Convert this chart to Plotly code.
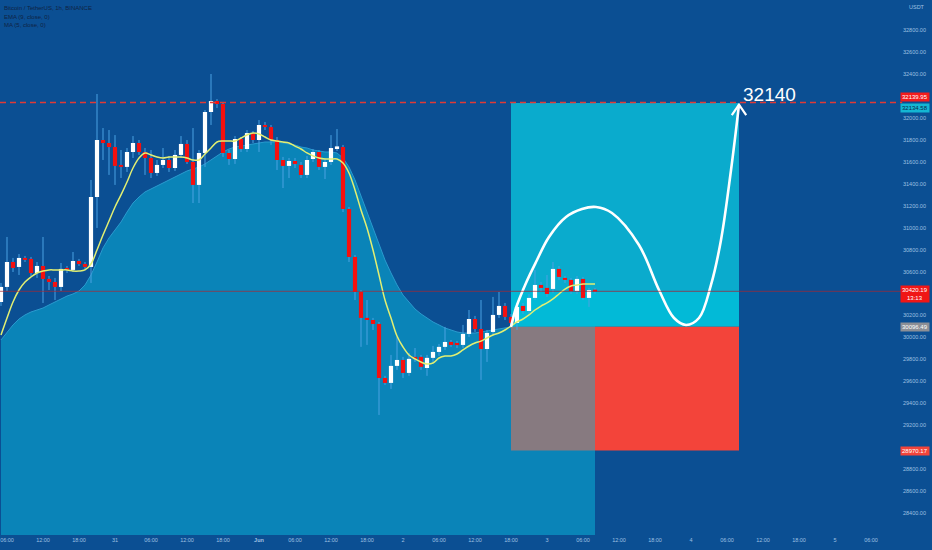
import plotly.graph_objects as go
import pandas as pd

# ---------------- data ----------------
start_time = "2022-05-30 05:00"
opens = [30323,30460,30687,30642,30724,30715,30587,30651,30533,30505,
         30460,30633,30615,30696,30669,30642,31279,31798,31771,31734,
         31571,31553,31689,31771,31689,31634,31498,31571,31616,31543,
         31662,31762,31598,31389,31680,32053,32153,32126,31680,31625,
         31807,31716,31861,31798,31935,31916,31798,31616,31562,31607,
         31571,31480,31625,31689,31553,31598,31716,31734,31170,30733,
         30414,30178,30159,30123,29631,29586,29741,29795,29677,29823,
         29823,29722,29814,29868,29914,29959,29950,29932,30032,30168,
         30077,29895,30050,30205,30287,30187,30132,30287,30241,30360,
         30478,30451,30442,30624,30542,30524,30423,30533,30360,30432]
highs = [30496,30915,30724,30760,30742,30733,30687,30915,30560,30542,
         30678,30651,30778,30715,30687,31434,32217,31907,31889,31843,
         31707,31725,31834,31798,31725,31707,31616,31725,31653,31707,
         31834,31798,31907,31707,32071,32399,32171,32144,31707,31834,
         31825,31889,31880,31980,31962,31935,31825,31644,31634,31634,
         31598,31653,31716,31707,31634,31843,31898,31753,31188,30751,
         30432,30341,30178,30141,29650,29841,30005,29823,29859,29904,
         29841,29841,29923,29941,30096,29977,29968,30114,30250,30196,
         30341,30068,30369,30414,30314,30214,30314,30314,30396,30615,
         30505,30569,30687,30651,30560,30542,30560,30551,30451,30451]
lows = [30287,30423,30596,30569,30687,30560,30542,30314,30432,30341,
        30423,30587,30596,30651,30615,30496,30997,31616,31480,31389,
        31452,31507,31634,31662,31480,31452,31471,31543,31507,31516,
        31634,31580,31224,31224,31553,31935,32089,31644,31571,31580,
        31689,31689,31771,31689,31889,31753,31525,31361,31452,31543,
        31452,31452,31598,31525,31443,31571,31698,31142,30687,30341,
        29914,29932,30068,29294,29568,29531,29704,29631,29650,29777,
        29704,29650,29777,29832,29886,29914,29904,29904,30005,30050,
        29613,29777,30023,30178,30159,30105,30068,30214,30214,30341,
        30414,30369,30405,30524,30496,30396,30396,30341,30278,30396]
closes = [30460,30687,30633,30724,30706,30587,30651,30533,30505,30460,
          30624,30615,30696,30669,30642,31279,31798,31771,31734,31562,
          31553,31689,31771,31689,31634,31498,31571,31616,31543,31662,
          31762,31598,31389,31680,32053,32153,32126,31680,31625,31807,
          31716,31861,31798,31935,31916,31798,31616,31562,31607,31580,
          31480,31616,31689,31553,31598,31725,31740,31170,30733,30414,
          30178,30159,30123,29631,29586,29741,29795,29677,29805,29805,
          29732,29814,29868,29914,29959,29932,29930,30032,30168,30077,
          29895,30041,30205,30287,30187,30132,30278,30241,30360,30478,
          30451,30396,30624,30551,30524,30423,30533,30360,30432,30420]
ema_fast = [30022,30177,30323,30432,30505,30551,30587,30605,30615,30615,
            30615,30615,30605,30605,30615,30669,30796,30933,31060,31188,
            31298,31416,31543,31634,31680,31662,31643,31634,31643,31643,
            31643,31634,31616,31616,31671,31725,31780,31789,31789,31789,
            31816,31844,31862,31853,31825,31798,31789,31780,31771,31743,
            31716,31680,31653,31634,31625,31625,31625,31589,31498,31343,
            31161,30997,30796,30569,30341,30177,30013,29913,29840,29804,
            29776,29758,29767,29813,29831,29831,29849,29886,29922,29949,
            29967,29995,30022,30040,30068,30104,30141,30168,30205,30250,
            30286,30314,30351,30396,30441,30468,30477,30487,30487,30487]
ma_slow = [29977,30050,30114,30168,30205,30232,30250,30268,30296,30323,
           30350,30377,30396,30423,30478,30569,30687,30815,30906,30978,
           31051,31142,31224,31279,31325,31352,31379,31406,31434,31461,
           31488,31516,31534,31552,31580,31616,31652,31689,31716,31734,
           31743,31752,31762,31771,31780,31780,31780,31771,31762,31752,
           31734,31725,31707,31698,31689,31689,31680,31634,31552,31434,
           31288,31142,30997,30851,30705,30587,30478,30386,30323,30259,
           30214,30177,30141,30114,30086,30068,30050,30040,30040,30040,
           30050,30059,30068,30077,30086,30096,30104,30114,30123,30132,
           30141,30150,30159,30168,30177,30186,30196,30205,30214,30223]

# position tool (long)
entry_price = 30096.49
target_price = 32134.58
stop_price = 28970.17
alert_price = 32139.95
last_price = 30420.19
pos_start_h = 85
pos_end_h = 123

# hand-drawn projection path (hours from start, price)
path_hours = [85.0, 85.83, 87.5, 89.17, 91.33, 94.17, 96.83, 99.17, 101.83,
              106.33, 109.67, 112.17, 114.17, 116.33, 118.33, 120.0, 121.67, 123.0]
path_prices = [30096, 30268, 30496, 30687, 30915, 31097, 31170, 31188, 31133,
               30842, 30432, 30177, 30114, 30177, 30478, 30888, 31525, 32120]
target_label = "32140"

# price-scale labels (those hidden under badges in the reference are left out)
y_ticks = [28400, 28600, 28800, 29200, 29400, 29600, 29800, 30000, 30200,
           30600, 30800, 31000, 31200, 31400, 31600, 31800, 32000, 32400, 32600, 32800]
x_tick_times = pd.date_range("2022-05-30 06:00", "2022-06-05 06:00", freq="6h")
x_tick_labels = ["06:00", "12:00", "18:00", "31", "06:00", "12:00", "18:00", "<b>Jun</b>",
                 "06:00", "12:00", "18:00", "2", "06:00", "12:00", "18:00", "3",
                 "06:00", "12:00", "18:00", "4", "06:00", "12:00", "18:00", "5", "06:00"]

# ---------------- styles ----------------
BG = "#0b4f93"
AREA = "#0a84b8"
AREA_EDGE = "#2a9bcf"
BOX_UP = "#0aabcd"
BOX_UP2 = "#02bad7"
BOX_GRAY = "#877a80"
BOX_RED = "#f3443a"
CANDLE_RED = "#f5100f"
CANDLE_UP = "#ffffff"
WICK = "#4aa2e2"
YELLOW = "#e2ef72"
TXT = "#9fc0e2"
FONT = "Liberation Sans, Arial"

t0 = pd.Timestamp(start_time)
H = pd.Timedelta(hours=1)
times = [t0 + i * H for i in range(len(opens))]
def th(h):
    return t0 + pd.Timedelta(hours=h)

fig = go.Figure()

# slow MA as filled area
fig.add_trace(go.Scatter(x=times, y=ma_slow, mode="lines", fill="tozeroy",
                         fillcolor=AREA, line=dict(color=AREA_EDGE, width=1),
                         hoverinfo="skip", showlegend=False))

def box(x0, x1, y0, y1, color):
    fig.add_trace(go.Scatter(x=[x0, x1, x1, x0, x0], y=[y0, y0, y1, y1, y0],
                             mode="lines", fill="toself", fillcolor=color,
                             line=dict(width=0, color=color),
                             hoverinfo="skip", showlegend=False))

last_t = times[-1]
box(th(pos_start_h), th(pos_end_h), last_price, target_price, BOX_UP)
box(th(pos_start_h), th(pos_end_h), entry_price, last_price, BOX_UP2)
box(th(pos_start_h), last_t, stop_price, entry_price, BOX_GRAY)
box(last_t, th(pos_end_h), stop_price, entry_price, BOX_RED)

# wicks
wx, wy = [], []
for t, lo, hi in zip(times, lows, highs):
    wx += [t, t, None]
    wy += [lo, hi, None]
fig.add_trace(go.Scatter(x=wx, y=wy, mode="lines", line=dict(color=WICK, width=1),
                         hoverinfo="skip", showlegend=False))

# bodies as thick segments (scatter layer keeps them above the area fill)
ux, uy, rx, ry = [], [], [], []
for t, o, c in zip(times, opens, closes):
    lo, hi = min(o, c), max(o, c)
    if hi - lo < 18:
        mid = (hi + lo) / 2
        lo, hi = mid - 9, mid + 9
    if c >= o:
        ux += [t, t, None]; uy += [lo, hi, None]
    else:
        rx += [t, t, None]; ry += [lo, hi, None]
fig.add_trace(go.Scatter(x=ux, y=uy, mode="lines", line=dict(color=CANDLE_UP, width=4.2),
                         hoverinfo="skip", showlegend=False))
fig.add_trace(go.Scatter(x=rx, y=ry, mode="lines", line=dict(color=CANDLE_RED, width=4.2),
                         hoverinfo="skip", showlegend=False))

# fast EMA
fig.add_trace(go.Scatter(x=times, y=ema_fast, mode="lines",
                         line=dict(color=YELLOW, width=1.5, shape="spline"),
                         hoverinfo="skip", showlegend=False))

# projection path
fig.add_trace(go.Scatter(x=[th(h) for h in path_hours], y=path_prices, mode="lines",
                         line=dict(color="white", width=2.6, shape="spline", smoothing=1.0),
                         hoverinfo="skip", showlegend=False))
tip_h, tip_p = path_hours[-1], path_prices[-1]
fig.add_trace(go.Scatter(x=[th(tip_h - 1.2), th(tip_h), th(tip_h + 1.2)],
                         y=[tip_p - 95, tip_p, tip_p - 95], mode="lines",
                         line=dict(color="white", width=2.2),
                         hoverinfo="skip", showlegend=False))

# lines
fig.add_shape(type="line", xref="paper", x0=0, x1=0.968, y0=alert_price, y1=alert_price,
              line=dict(color="#e23a35", width=1.6, dash="6px,4px"))
fig.add_shape(type="line", xref="paper", x0=0, x1=0.968, y0=last_price, y1=last_price,
              line=dict(color="rgba(170,40,50,0.7)", width=1))

# target text
fig.add_annotation(x=th(tip_h + 0.4), y=alert_price, text=target_label, showarrow=False,
                   xanchor="left", yanchor="bottom", yshift=-5,
                   font=dict(family=FONT, size=19, color="white"))

# y tick labels
for v in y_ticks:
    fig.add_annotation(xref="paper", x=1, xshift=-4, y=v, text=f"{v:.2f}", showarrow=False,
                       xanchor="right", yanchor="middle",
                       font=dict(family=FONT, size=5.5, color=TXT))

# price badges
def badge(price, text, bg, fc="white"):
    fig.add_annotation(xref="paper", x=1, xshift=-2, y=price, text=text, showarrow=False,
                       xanchor="right", yanchor="middle", bgcolor=bg, borderpad=1,
                       font=dict(family=FONT, size=6, color=fc))

badge(alert_price + 50, "32139.95", "#f21c1c")
badge(target_price - 45, "32134.58", "#13b6d3", "#0c2a4a")
badge(last_price - 20, "30420.19<br>13:13", "#f01616")
badge(entry_price, "30096.49", "#8c8f96")
badge(stop_price, "28970.17", "#f3443a")

fig.add_annotation(xref="paper", yref="paper", x=0.973, y=0.987, text="USDT", showarrow=False,
                   xanchor="left", yanchor="middle",
                   font=dict(family=FONT, size=5.5, color=TXT))

# legend text
legend_lines = ["Bitcoin / TetherUS, 1h, BINANCE", "EMA (9, close, 0)", "MA (5, close, 0)"]
for k, s in enumerate(legend_lines):
    fig.add_annotation(xref="paper", yref="paper", x=0.002, y=1 - (8 + 8.5 * k) / 535, text=s,
                       showarrow=False, xanchor="left", yanchor="middle",
                       font=dict(family=FONT, size=6, color="#0f2344"))

fig.update_layout(
    width=932, height=550,
    margin=dict(l=0, r=0, t=0, b=15, pad=0, autoexpand=False),
    paper_bgcolor=BG, plot_bgcolor=BG,
    showlegend=False,
    xaxis=dict(range=[t0 - pd.Timedelta(minutes=10), t0 + pd.Timedelta(hours=155, minutes=10)],
               tickvals=list(x_tick_times), ticktext=x_tick_labels, automargin=False,
               showgrid=False, zeroline=False, showline=False, ticks="",
               tickfont=dict(family=FONT, size=5.5, color=TXT)),
    yaxis=dict(range=[28201, 33073], automargin=False, showticklabels=False,
               showgrid=False, zeroline=False, showline=False, ticks=""),
)

fig.write_html("out.html", config={"displayModeBar": False},
               post_script="document.body.style.margin='0';document.body.style.padding='0';"
                           "document.body.style.overflow='hidden';"
                           "document.body.style.background='" + BG + "';")
